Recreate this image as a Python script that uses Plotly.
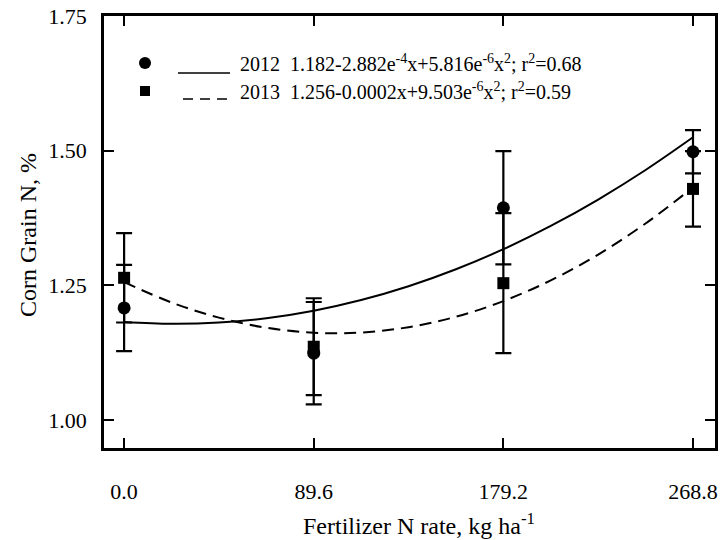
import plotly.graph_objects as go

# Data
n_rate = [0.0, 89.6, 179.2, 268.8]
grain_n_2012 = [1.208, 1.124, 1.394, 1.498]
err_2012 = [0.080, 0.095, 0.105, 0.040]
grain_n_2013 = [1.264, 1.136, 1.254, 1.429]
err_2013 = [0.083, 0.090, 0.130, 0.070]

# fitted curves
curve_x = [0.0, 22.4, 44.8, 67.2, 89.6, 112.0, 134.4, 156.8, 179.2, 201.6, 224.0, 246.4, 268.8]
fit_2012 = [1.182, 1.1785, 1.1808, 1.1889, 1.2029, 1.2227, 1.2483, 1.2798, 1.3171, 1.3603, 1.4093, 1.4641, 1.5248]
fit_2013 = [1.256, 1.2182, 1.1900, 1.1712, 1.1620, 1.1624, 1.1723, 1.1917, 1.2207, 1.2592, 1.3072, 1.3648, 1.4319]

x_ticks = [0.0, 89.6, 179.2, 268.8]
x_tick_text = ["0.0", "89.6", "179.2", "268.8"]
y_ticks = [1.00, 1.25, 1.50, 1.75]
y_tick_text = ["1.00", "1.25", "1.50", "1.75"]

legend_2012 = "2012  1.182-2.882e<sup>-4</sup>x+5.816e<sup>-6</sup>x<sup>2</sup>; r<sup>2</sup>=0.68"
legend_2013 = "2013  1.256-0.0002x+9.503e<sup>-6</sup>x<sup>2</sup>; r<sup>2</sup>=0.59"
x_title = "Fertilizer N rate, kg ha<sup>-1</sup>"
y_title = "Corn Grain N, %"

FONT = "Liberation Serif, Times New Roman, serif"
PL, PR, PT, PB = 104, 715, 16, 448  # plot area in pixels


def px_x(p):
    return (p - PL) / float(PR - PL)


def px_y(p):
    return (PB - p) / float(PB - PT)


fig = go.Figure()
fig.add_trace(go.Scatter(x=curve_x, y=fit_2012, mode="lines",
                         line=dict(color="black", width=2, shape="spline"),
                         showlegend=False, hoverinfo="skip"))
fig.add_trace(go.Scatter(x=curve_x, y=fit_2013, mode="lines",
                         line=dict(color="black", width=2, dash="12px,7px", shape="spline"),
                         showlegend=False, hoverinfo="skip"))
fig.add_trace(go.Scatter(x=n_rate, y=grain_n_2012, mode="markers",
                         marker=dict(symbol="circle", size=13, color="black"),
                         error_y=dict(type="data", array=err_2012, color="black", thickness=2.2, width=8),
                         showlegend=False))
fig.add_trace(go.Scatter(x=n_rate, y=grain_n_2013, mode="markers",
                         marker=dict(symbol="square", size=12, color="black"),
                         error_y=dict(type="data", array=err_2013, color="black", thickness=2.2, width=8),
                         showlegend=False))

shapes = [
    dict(type="circle", xref="paper", yref="paper", x0=px_x(139), x1=px_x(151), y0=px_y(69), y1=px_y(57),
         fillcolor="black", line=dict(color="black", width=0)),
    dict(type="rect", xref="paper", yref="paper", x0=px_x(140), x1=px_x(150), y0=px_y(96), y1=px_y(86),
         fillcolor="black", line=dict(color="black", width=0)),
    dict(type="line", xref="paper", yref="paper", x0=px_x(178), x1=px_x(230), y0=px_y(73), y1=px_y(73),
         line=dict(color="black", width=1.6)),
    dict(type="line", xref="paper", yref="paper", x0=px_x(183), x1=px_x(229), y0=px_y(99), y1=px_y(99),
         line=dict(color="black", width=1.6, dash="10px,7px")),
]
annotations = [
    dict(text=legend_2012, xref="paper", yref="paper", x=px_x(238), y=px_y(63), xanchor="left", yanchor="middle",
         showarrow=False, font=dict(family=FONT, size=20, color="black")),
    dict(text=legend_2013, xref="paper", yref="paper", x=px_x(238), y=px_y(91), xanchor="left", yanchor="middle",
         showarrow=False, font=dict(family=FONT, size=20, color="black")),
    dict(text=x_title, xref="paper", yref="paper", x=px_x(419), y=px_y(524), xanchor="center", yanchor="middle",
         showarrow=False, font=dict(family=FONT, size=24, color="black")),
    dict(text=y_title, xref="paper", yref="paper", x=px_x(28), y=px_y(235), xanchor="center", yanchor="middle",
         textangle=-90, showarrow=False, font=dict(family=FONT, size=24, color="black")),
]

fig.update_layout(
    width=721, height=540,
    margin=dict(l=PL, r=721 - PR, t=PT, b=540 - PB, autoexpand=False),
    paper_bgcolor="white", plot_bgcolor="white",
    font=dict(family=FONT, size=22, color="black"),
    shapes=shapes, annotations=annotations,
    xaxis=dict(range=[-9.5, 279.2], tickvals=x_ticks, ticktext=x_tick_text, ticks="inside", ticklen=10,
               tickwidth=2, tickcolor="black", showline=True, linewidth=2.5, linecolor="black", mirror="ticks",
               showgrid=False, zeroline=False, ticklabelstandoff=22, automargin=False),
    yaxis=dict(range=[0.948, 1.75], tickvals=y_ticks, ticktext=y_tick_text, ticks="inside", ticklen=10,
               tickwidth=2, tickcolor="black", showline=True, linewidth=2.5, linecolor="black", mirror="ticks",
               showgrid=False, zeroline=False, ticklabelstandoff=10, automargin=False),
)

fig.write_html(
    "out.html",
    config={"displayModeBar": False},
    post_script="document.body.style.margin='0';document.body.style.padding='0';"
                "document.body.style.overflow='hidden';",
)
